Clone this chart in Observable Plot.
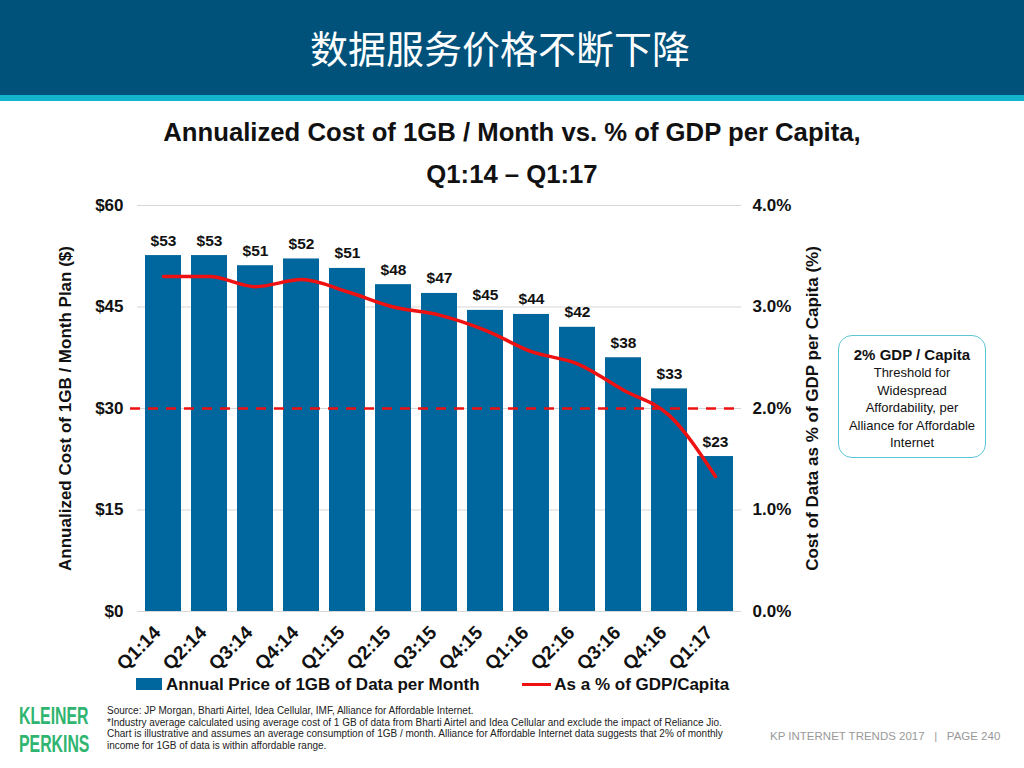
<!DOCTYPE html>
<html>
<head>
<meta charset="utf-8">
<script src="https://cdn.jsdelivr.net/npm/d3@7"></script>
<script src="https://cdn.jsdelivr.net/npm/@observablehq/plot@0.6"></script>
<style>
  html, body { margin: 0; padding: 0; }
  body { width: 1024px; height: 768px; position: relative; overflow: hidden; background: #fff; font-family: "Liberation Sans", Arial, sans-serif; }
  .abs { position: absolute; }
  #header { left: 0; top: 0; width: 1024px; height: 95px; background: #00527b; }
  #stripe { left: 0; top: 95px; width: 1024px; height: 6px; background: #13b4cc; }
  #htitle { left: 0; top: 21px; width: 1000px; text-align: center; color: #fff; font-family: "Noto Sans CJK SC", sans-serif; font-size: 38px; line-height: 52px; }
  .ctitle { left: 0; width: 1024px; text-align: center; font-weight: bold; font-size: 25.7px; color: #111; }
  #chart { left: 0; top: 190px; }
  #legend { left: 136px; top: 675px; font-size: 17px; font-weight: bold; color: #111; white-space: nowrap; }
  #box { left: 838px; top: 335px; width: 146px; height: 121px; border: 1.5px solid #5cc6d6; border-radius: 14px; text-align: center; color: #111; }
  .logo { left: 19px; color: #2fb56f; font-family: "Liberation Sans", sans-serif; font-weight: bold; font-size: 24px; transform: scaleX(0.66); transform-origin: 0 0; white-space: nowrap; }
  #source { left: 107px; top: 705px; font-size: 10px; line-height: 11.5px; color: #222; white-space: nowrap; }
  #page { left: 770px; top: 730px; font-size: 11.5px; color: #999; white-space: nowrap; }
</style>
</head>
<body>
<div id="header" class="abs"></div>
<div id="stripe" class="abs"></div>
<div id="htitle" class="abs">数据服务价格不断下降</div>
<div class="abs ctitle" style="top:118px;">Annualized Cost of 1GB / Month vs. % of GDP per Capita,</div>
<div class="abs ctitle" style="top:160px;">Q1:14 – Q1:17</div>
<div id="chart" class="abs"></div>
<div id="legend" class="abs">
  <span style="display:inline-block;width:26px;height:12px;background:#00669e;vertical-align:middle;margin-top:-3px;"></span><span style="margin-left:4px;">Annual Price of 1GB of Data per Month</span>
  <span style="display:inline-block;width:29px;height:3px;background:#ee1111;vertical-align:middle;margin-left:38px;margin-top:-3px;"></span><span style="margin-left:3px;">As a % of GDP/Capita</span>
</div>
<div id="box" class="abs">
  <div style="font-weight:bold;font-size:15px;margin-top:10px;line-height:18px;">2% GDP / Capita</div>
  <div style="font-size:13px;line-height:17.5px;">Threshold for<br>Widespread<br>Affordability, per<br>Alliance for Affordable<br>Internet</div>
</div>
<div class="abs logo" style="top:702px;">KLEINER</div>
<div class="abs logo" style="top:730px;">PERKINS</div>
<div id="source" class="abs">Source: JP Morgan, Bharti Airtel, Idea Cellular, IMF, Alliance for Affordable Internet.<br>*Industry average calculated using average cost of 1 GB of data from Bharti Airtel and Idea Cellular and exclude the impact of Reliance Jio.<br>Chart is illustrative and assumes an average consumption of 1GB / month. Alliance for Affordable Internet data suggests that 2% of monthly<br>income for 1GB of data is within affordable range.</div>
<div id="page" class="abs">KP INTERNET TRENDS 2017 &nbsp;&nbsp;|&nbsp;&nbsp; PAGE 240</div>
<script>
const quarters = ["Q1:14","Q2:14","Q3:14","Q4:14","Q1:15","Q2:15","Q3:15","Q4:15","Q1:16","Q2:16","Q3:16","Q4:16","Q1:17"];
const price = [52.6, 52.6, 51.1, 52.1, 50.7, 48.3, 47.0, 44.5, 43.9, 42.0, 37.5, 32.9, 22.9];
const priceLabels = ["$53","$53","$51","$52","$51","$48","$47","$45","$44","$42","$38","$33","$23"];
const pctGdp = [3.30, 3.30, 3.20, 3.27, 3.15, 3.00, 2.92, 2.77, 2.56, 2.44, 2.18, 1.93, 1.33];
const threshold = 2.0;
const leftTicks = [0, 15, 30, 45, 60];
const rightTicks = [0, 1, 2, 3, 4];

// right axis maps 1% -> $15 on the shared y scale
const k = 15;
const rows = quarters.map((q, i) => ({q, price: price[i], label: priceLabels[i], pct: pctGdp[i]}));

const chart = Plot.plot({
  width: 840,
  height: 490,
  marginLeft: 137,
  marginRight: 99,
  marginTop: 15,
  marginBottom: 69,
  style: {fontFamily: "Liberation Sans, Arial, sans-serif", fontSize: "17px", fontWeight: "bold", color: "#111", overflow: "visible"},
  x: {domain: quarters, paddingInner: 0.226, paddingOuter: 0.113},
  y: {domain: [0, 60]},
  marks: [
    Plot.ruleY(leftTicks, {stroke: "#d6d6d6", strokeWidth: 1}),
    Plot.barY(rows, {x: "q", y: "price", fill: "#00669e"}),
    Plot.text(rows, {x: "q", y: "price", text: "label", dy: -15, fontSize: 15.5, fontWeight: "bold", fill: "#111"}),
    Plot.ruleY([threshold * k], {stroke: "#ee1111", strokeWidth: 2.5, strokeDasharray: "10,8", insetLeft: -7}),
    Plot.line(rows, {x: "q", y: d => d.pct * k, stroke: "#ee1111", strokeWidth: 3.5, curve: "monotone-x"}),
    Plot.axisY(leftTicks, {anchor: "left", tickSize: 0, tickPadding: 14, tickFormat: d => "$" + d, fontSize: 17, fontWeight: "bold",
      label: "Annualized Cost of 1GB / Month Plan ($)", labelAnchor: "center", labelArrow: "none", labelOffset: 79}),
    Plot.axisY(rightTicks.map(d => d * k), {anchor: "right", tickSize: 0, tickPadding: 11, tickFormat: d => (d / k).toFixed(1) + "%", fontSize: 17, fontWeight: "bold",
      label: "Cost of Data as % of GDP per Capita (%)", labelAnchor: "center", labelArrow: "none", labelOffset: 76}),
    Plot.axisX({tickSize: 0, tickPadding: 14, tickRotate: -45, dx: -6, dy: 4, fontSize: 19, fontWeight: "bold", label: null})
  ]
});
document.getElementById("chart").appendChild(chart);
</script>
</body>
</html>
